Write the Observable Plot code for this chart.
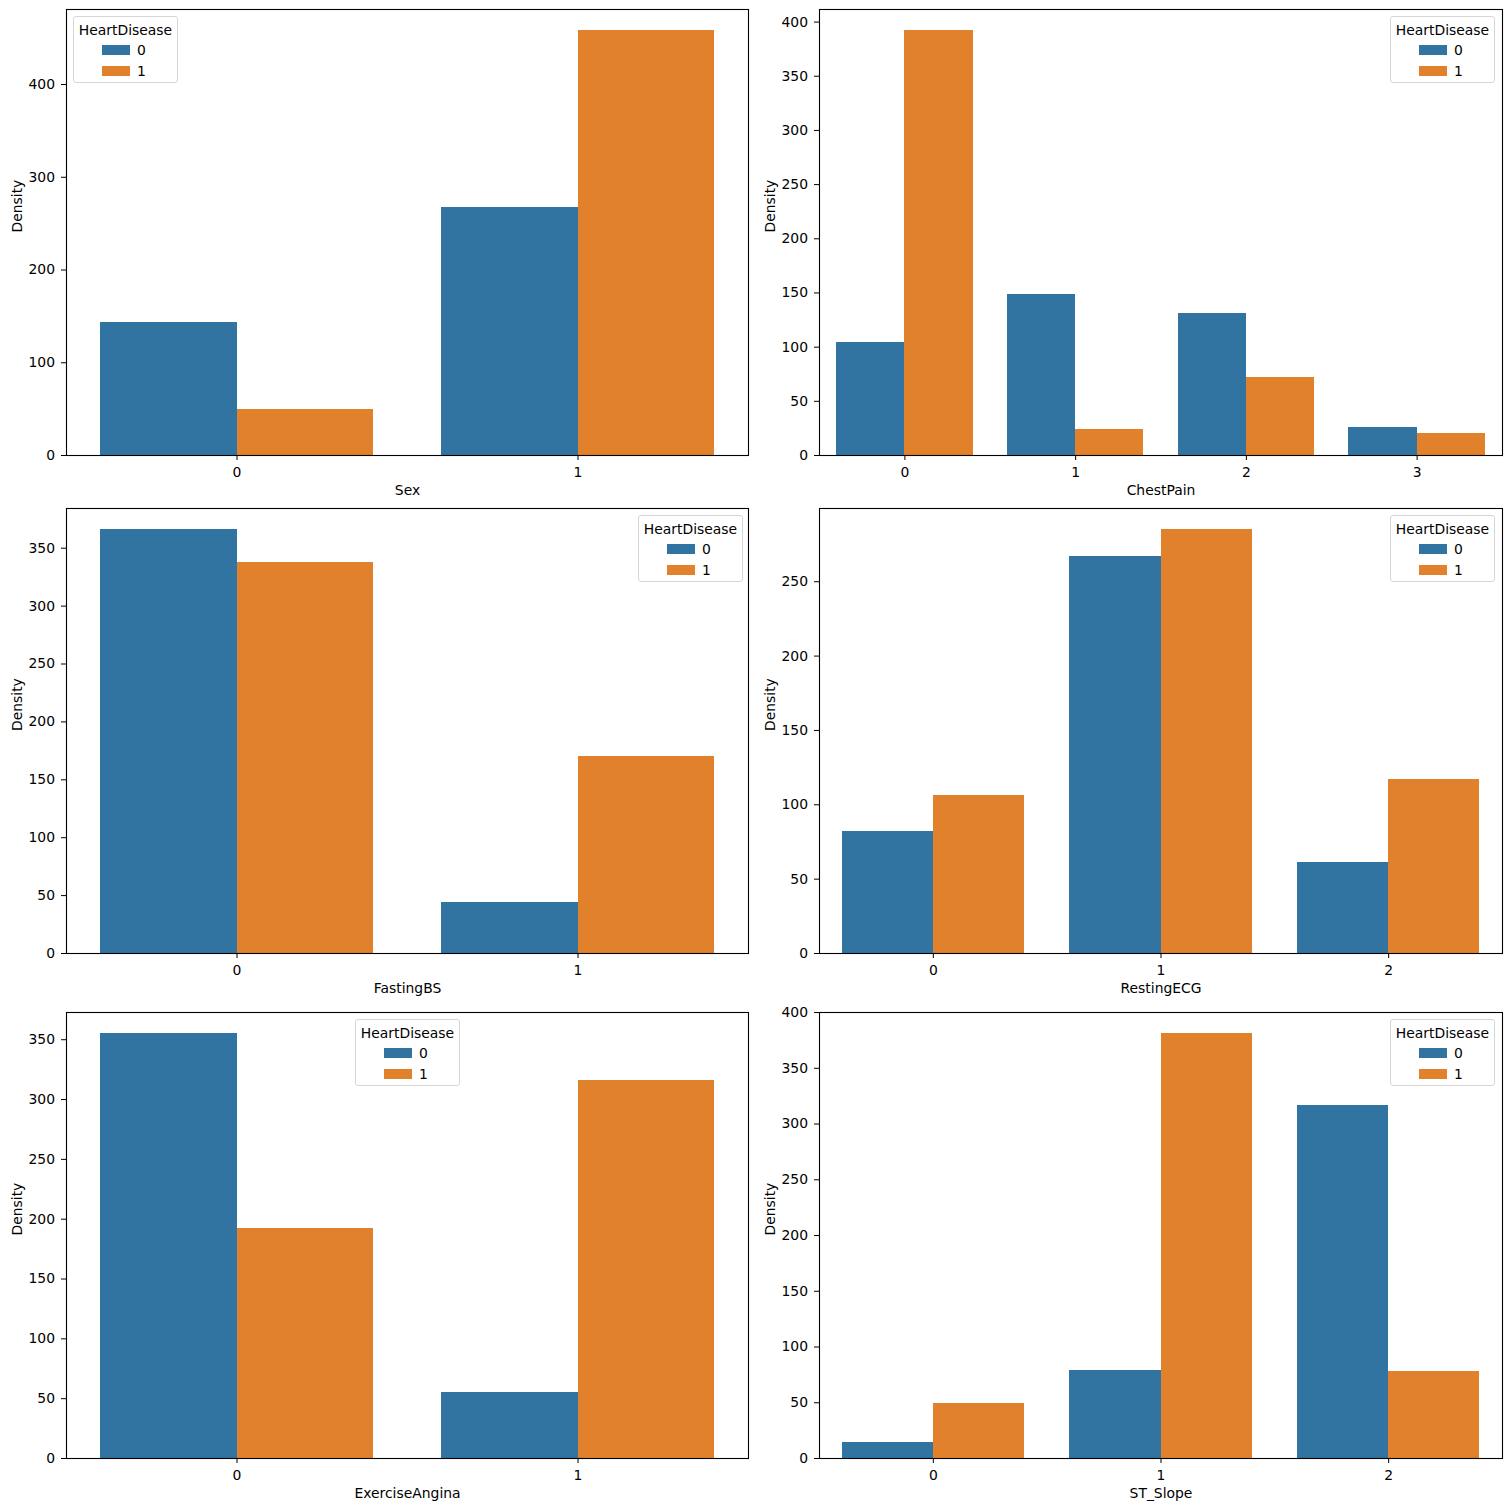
<!DOCTYPE html>
<html>
<head>
<meta charset="utf-8">
<script src="https://cdn.jsdelivr.net/npm/d3@7"></script>
<script src="https://cdn.jsdelivr.net/npm/@observablehq/plot@0.6"></script>
<style>
  html, body { margin: 0; padding: 0; background: #fff; }
  #fig { position: relative; width: 1511px; height: 1511px; font-family: "DejaVu Sans", sans-serif; }
  #fig svg { position: absolute; overflow: visible; }
  .legend { position: absolute; box-sizing: border-box; border: 1px solid #d6d6d6; border-radius: 3px;
            background: rgba(255,255,255,0.8); font-size: 13.9px; color: #000; }
  .legend .title { position: absolute; left: 0; right: 0; top: 5px; text-align: center; line-height: 16px; }
  .legend .sw { position: absolute; width: 28px; height: 10px; }
  .legend .lab { position: absolute; line-height: 16px; }
</style>
</head>
<body>
<div id="fig"></div>
<script>
// ---- data (counts per category, split by HeartDisease 0 / 1) ----
const sexCats = ["0", "1"];
const sexNo = [143, 267];
const sexYes = [50, 458];
const sexTicks = [0, 100, 200, 300, 400];

const chestCats = ["0", "1", "2", "3"];
const chestNo = [104, 149, 131, 26];
const chestYes = [392, 24, 72, 20];
const chestTicks = [0, 50, 100, 150, 200, 250, 300, 350, 400];

const fastCats = ["0", "1"];
const fastNo = [366, 44];
const fastYes = [338, 170];
const fastTicks = [0, 50, 100, 150, 200, 250, 300, 350];

const ecgCats = ["0", "1", "2"];
const ecgNo = [82, 267, 61];
const ecgYes = [106, 285, 117];
const ecgTicks = [0, 50, 100, 150, 200, 250];

const anginaCats = ["0", "1"];
const anginaNo = [355, 55];
const anginaYes = [192, 316];
const anginaTicks = [0, 50, 100, 150, 200, 250, 300, 350];

const slopeCats = ["0", "1", "2"];
const slopeNo = [14, 79, 317];
const slopeYes = [49, 381, 78];
const slopeTicks = [0, 50, 100, 150, 200, 250, 300, 350, 400];

const hueLevels = [0, 1];
const hueColors = ["#3274a1", "#e1812c"];
const yLabel = "Density";
const legendTitle = "HeartDisease";

// ---- layout ----
const panels = [
  {name: "Sex", cats: sexCats, no: sexNo, yes: sexYes, ticks: sexTicks, box: [66, 9, 748, 455], leg: [73, 16]},
  {name: "ChestPain", cats: chestCats, no: chestNo, yes: chestYes, ticks: chestTicks, box: [819, 9, 1502, 455], leg: [1390, 16]},
  {name: "FastingBS", cats: fastCats, no: fastNo, yes: fastYes, ticks: fastTicks, box: [66, 508, 748, 953], leg: [638, 515]},
  {name: "RestingECG", cats: ecgCats, no: ecgNo, yes: ecgYes, ticks: ecgTicks, box: [819, 508, 1502, 953], leg: [1390, 515]},
  {name: "ExerciseAngina", cats: anginaCats, no: anginaNo, yes: anginaYes, ticks: anginaTicks, box: [66, 1012, 748, 1458], leg: [355, 1019]},
  {name: "ST_Slope", cats: slopeCats, no: slopeNo, yes: slopeYes, ticks: slopeTicks, box: [819, 1012, 1502, 1458], leg: [1390, 1019]}
];

const fig = document.getElementById("fig");
const mL = 66, mT = 9, mR = 8, mB = 52;

for (const p of panels) {
  const rows = [];
  p.cats.forEach((c, i) => {
    rows.push({cat: c, idx: i, hue: 0, count: p.no[i]});
    rows.push({cat: c, idx: i, hue: 1, count: p.yes[i]});
  });
  const maxV = d3.max(rows, d => d.count);
  const [x0, y0, x1, y1] = p.box;
  const w = x1 - x0, h = y1 - y0;
  const chart = Plot.plot({
    width: w + mL + mR,
    height: h + mT + mB,
    marginLeft: mL, marginTop: mT, marginRight: mR, marginBottom: mB,
    style: {fontSize: "13.9px", fontFamily: "DejaVu Sans, sans-serif", color: "#000", background: "transparent", overflow: "visible"},
    x: {type: "linear", domain: [-0.5, p.cats.length - 0.5]},
    y: {domain: [0, maxV * 1.05]},
    color: {domain: hueLevels, range: hueColors},
    marks: [
      Plot.rectY(rows, {
        x1: d => d.idx - 0.4 + d.hue * 0.4,
        x2: d => d.idx + d.hue * 0.4,
        y: "count",
        fill: d => d.hue,
        shapeRendering: "crispEdges"
      }),
      Plot.axisX({ticks: p.cats.map((c, i) => i), tickFormat: i => p.cats[i], tickSize: 5, tickPadding: 7, label: null, stroke: "#000", strokeOpacity: 1, strokeWidth: 1}),
      Plot.axisY({ticks: p.ticks, tickSize: 5, tickPadding: 6.5, label: null, stroke: "#000", strokeOpacity: 1, strokeWidth: 1}),
      Plot.frame({stroke: "#000", strokeWidth: 1.1}),
      Plot.text([p.name], {frameAnchor: "bottom", dy: 39, fill: "#000"}),
      Plot.text([yLabel], {frameAnchor: "left", dx: -49, rotate: -90, fill: "#000"})
    ]
  });
  chart.style.left = (x0 - mL) + "px";
  chart.style.top = (y0 - mT) + "px";
  fig.appendChild(chart);

  // legend
  const lg = document.createElement("div");
  lg.className = "legend";
  lg.style.left = p.leg[0] + "px";
  lg.style.top = p.leg[1] + "px";
  lg.style.width = "105px";
  lg.style.height = "67px";
  const t = document.createElement("div");
  t.className = "title";
  t.textContent = legendTitle;
  lg.appendChild(t);
  hueLevels.forEach((lv, k) => {
    const sw = document.createElement("div");
    sw.className = "sw";
    sw.style.left = "28px";
    sw.style.top = (28 + k * 21) + "px";
    sw.style.background = hueColors[k];
    lg.appendChild(sw);
    const lb = document.createElement("div");
    lb.className = "lab";
    lb.style.left = "63px";
    lb.style.top = (25 + k * 21) + "px";
    lb.textContent = String(lv);
    lg.appendChild(lb);
  });
  fig.appendChild(lg);
}
</script>
</body>
</html>
